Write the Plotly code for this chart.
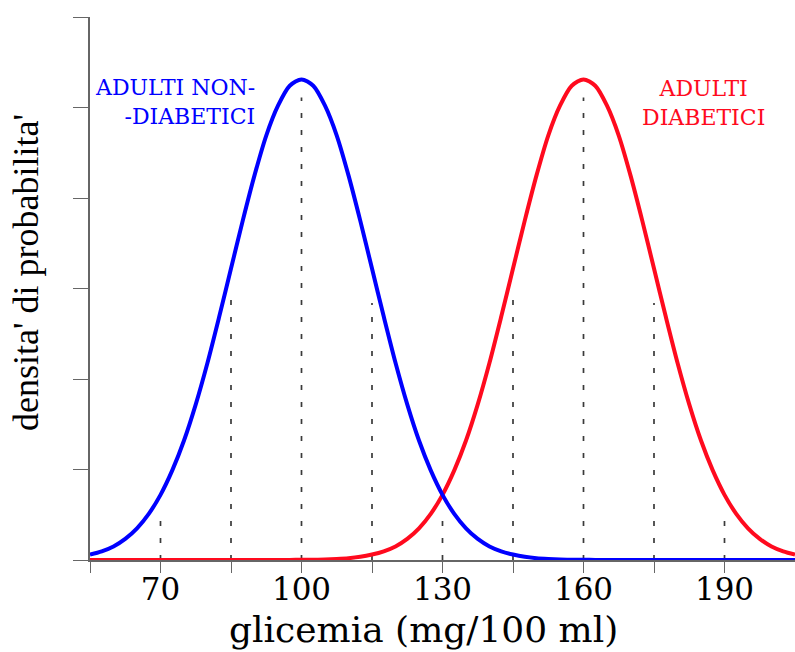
import plotly.graph_objects as go

# glucose values (mg/100 ml)
x_vals = [55, 57.5, 60, 62.5, 65, 67.5, 70, 72.5, 75, 77.5, 80, 82.5, 85, 87.5, 90, 92.5,
          95, 97.5, 100, 102.5, 105, 107.5, 110, 112.5, 115, 117.5, 120, 122.5, 125, 127.5,
          130, 132.5, 135, 137.5, 140, 142.5, 145, 147.5, 150, 152.5, 155, 157.5, 160, 162.5,
          165, 167.5, 170, 172.5, 175, 177.5, 180, 182.5, 185, 187.5, 190, 192.5, 195, 197.5,
          200, 202.5, 205]
# probability density (arbitrary units) - non-diabetic adults
blue_vals = [0.06, 0.096, 0.15, 0.233, 0.35, 0.51, 0.72, 0.99, 1.32, 1.72, 2.18, 2.69, 3.22,
             3.75, 4.25, 4.69, 5.02, 5.24, 5.31, 5.24, 5.02, 4.69, 4.25, 3.75, 3.22, 2.69,
             2.18, 1.72, 1.32, 0.99, 0.72, 0.51, 0.35, 0.233, 0.15, 0.096, 0.06, 0.035, 0.02,
             0.0116, 0.006, 0.0034, 0.002, 0.0009, 0.0005, 0, 0, 0, 0, 0, 0, 0, 0, 0, 0, 0,
             0, 0, 0, 0, 0]
# probability density (arbitrary units) - diabetic adults
red_vals = [0, 0, 0, 0, 0, 0, 0, 0, 0, 0, 0, 0, 0, 0, 0, 0, 0.0005, 0.0009, 0.002, 0.0034,
            0.006, 0.0116, 0.02, 0.035, 0.06, 0.096, 0.15, 0.233, 0.35, 0.51, 0.72, 0.99,
            1.32, 1.72, 2.18, 2.69, 3.22, 3.75, 4.25, 4.69, 5.02, 5.24, 5.31, 5.24, 5.02,
            4.69, 4.25, 3.75, 3.22, 2.69, 2.18, 1.72, 1.32, 0.99, 0.72, 0.51, 0.35, 0.233,
            0.15, 0.096, 0.06]

# dashed reference lines (mean, +-1 sd, +-2 sd)
dash_x = [70, 85, 100, 115, 130, 145, 160, 175, 190]
dash_top = [0.53, 3.0, 5.11, 2.84, 0.47, 3.0, 5.11, 2.84, 0.47]

tick_vals = [55, 70, 85, 100, 115, 130, 145, 160, 175, 190, 205]
tick_text = ["", "70", "", "100", "", "130", "", "160", "", "190", ""]

BLUE = "#0000ff"
RED = "#ff0a1e"
AXIS = "#666666"

fig = go.Figure()

for xv, top in zip(dash_x, dash_top):
    fig.add_trace(go.Scatter(x=[xv, xv], y=[0, top], mode="lines",
                             line=dict(color="#3a3a3a", width=1.7, dash="5px,12px"),
                             showlegend=False, hoverinfo="skip"))

fig.add_trace(go.Scatter(x=x_vals, y=red_vals, mode="lines",
                         line=dict(color=RED, width=4, shape="spline", smoothing=0.8),
                         showlegend=False))
fig.add_trace(go.Scatter(x=x_vals, y=blue_vals, mode="lines",
                         line=dict(color=BLUE, width=4, shape="spline", smoothing=0.8),
                         showlegend=False))


def px_x(p):
    return (p - 90) / 705


def px_y(p):
    return (560 - p) / 543


fig.update_layout(
    width=795, height=652,
    margin=dict(l=90, r=0, t=17, b=92),
    paper_bgcolor="white", plot_bgcolor="white",
    xaxis=dict(range=[55, 205], tickmode="array", tickvals=tick_vals, ticktext=tick_text,
               ticks="outside", ticklen=11, tickcolor=AXIS, tickwidth=1.2,
               ticklabelstandoff=-10,
               showline=True, linecolor=AXIS, linewidth=1.5, showgrid=False, zeroline=False,
               tickfont=dict(family="DejaVu Serif", size=31, color="black")),
    yaxis=dict(range=[0, 6], tickmode="array", tickvals=[0, 1, 2, 3, 4, 5, 6],
               showticklabels=False, ticks="outside", ticklen=15, tickcolor=AXIS, tickwidth=1.2,
               showline=True, linecolor=AXIS, linewidth=1.5, showgrid=False, zeroline=False),
    annotations=[
        dict(text="ADULTI NON-<br>-DIABETICI", x=px_x(257), y=px_y(102), xref="paper",
             yref="paper", xanchor="right", yanchor="middle", showarrow=False, align="right",
             font=dict(family="DejaVu Serif", size=22, color=BLUE)),
        dict(text="ADULTI<br>DIABETICI", x=px_x(703), y=px_y(103), xref="paper", yref="paper",
             xanchor="center", yanchor="middle", showarrow=False, align="center",
             font=dict(family="DejaVu Serif", size=22, color=RED)),
        dict(text="glicemia (mg/100 ml)", x=px_x(423), y=px_y(629), xref="paper",
             yref="paper", showarrow=False, xanchor="center", yanchor="middle",
             font=dict(family="DejaVu Serif", size=36, color="black")),
        dict(text="densita' di probabilita'", x=px_x(26), y=px_y(273), xref="paper",
             yref="paper", textangle=-90, showarrow=False, xanchor="center",
             yanchor="middle", font=dict(family="Liberation Serif", size=36, color="black")),
    ],
)

fig.write_html("out.html", config={"displayModeBar": False},
               post_script="document.body.style.margin='0px';")
